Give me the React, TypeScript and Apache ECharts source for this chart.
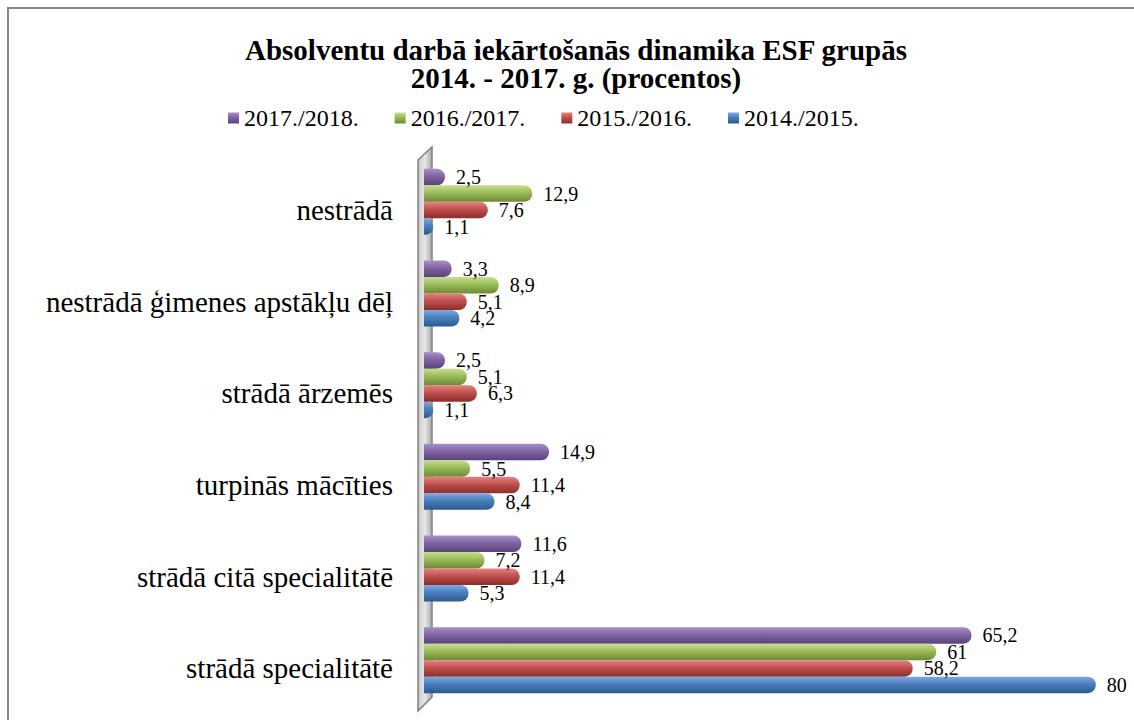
import React, { useEffect, useRef } from "react";
import * as echarts from "echarts";

const categories = [
  "nestrādā",
  "nestrādā ģimenes apstākļu dēļ",
  "strādā ārzemēs",
  "turpinās mācīties",
  "strādā citā specialitātē",
  "strādā specialitātē",
];
const seriesNames = ["2017./2018.", "2016./2017.", "2015./2016.", "2014./2015."];
const v2017 = [2.5, 3.3, 2.5, 14.9, 11.6, 65.2];
const v2016 = [12.9, 8.9, 5.1, 5.5, 7.2, 61];
const v2015 = [7.6, 5.1, 6.3, 11.4, 11.4, 58.2];
const v2014 = [1.1, 4.2, 1.1, 8.4, 5.3, 80];
const seriesValues = [v2017, v2016, v2015, v2014];
const palette = [
  ["#a890c8", "#8064a2", "#5a437a"],
  ["#c6e08e", "#9bbb59", "#6c8a34"],
  ["#e48481", "#c0504d", "#8c2e2b"],
  ["#7eaae2", "#4a7ebb", "#2c5a90"],
];

const FONT = "Liberation Serif";

function grad(c: string[]) {
  return new echarts.graphic.LinearGradient(0, 0, 0, 1, [
    { offset: 0, color: c[0] },
    { offset: 0.45, color: c[1] },
    { offset: 1, color: c[2] },
  ]);
}

export default function App() {
  const ref = useRef<HTMLDivElement>(null);
  useEffect(() => {
    if (!ref.current) return;
    const chart = echarts.init(ref.current, null, { renderer: "svg" });
    chart.setOption({
      animation: false,
      backgroundColor: "#ffffff",
      title: {
        text: "Absolventu darbā iekārtošanās dinamika ESF grupās\n2014. - 2017. g. (procentos)",
        left: 571,
        top: 31,
        textAlign: "center",
        textStyle: {
          fontFamily: FONT,
          fontWeight: "bold",
          fontSize: 29,
          lineHeight: 28,
          color: "#000",
        },
      },
      legend: {
        top: 101,
        left: 223,
        itemWidth: 11,
        itemHeight: 11,
        itemGap: 36,
        icon: "rect",
        textStyle: { fontFamily: FONT, fontSize: 24, color: "#000" },
        data: seriesNames,
      },
      grid: { left: 424, top: 156, width: 697, height: 550, containLabel: false },
      xAxis: { type: "value", min: 0, max: 83, show: false },
      yAxis: {
        type: "category",
        inverse: true,
        data: categories,
        axisLine: { show: false },
        axisTick: { show: false },
        axisLabel: {
          margin: 31,
          fontFamily: FONT,
          fontSize: 29,
          color: "#000",
          verticalAlign: "top",
          lineHeight: 16,
        },
      },
      graphic: [
        {
          type: "rect",
          z: -10,
          shape: { x: 8, y: 8, width: 1400, height: 1000 },
          style: { fill: "none", stroke: "#888888", lineWidth: 2 },
          silent: true,
        },
        {
          type: "polygon",
          z: -5,
          shape: { points: [[418, 160], [432, 147], [432, 697], [418, 711]] },
          style: {
            fill: new echarts.graphic.LinearGradient(0, 0, 1, 0, [
              { offset: 0, color: "#c8c8c8" },
              { offset: 0.5, color: "#e8e8e8" },
              { offset: 1, color: "#a8a8a8" },
            ]),
            stroke: "#7f7f7f",
            lineWidth: 1.5,
          },
          silent: true,
        },
      ],
      series: seriesNames.map((name, i) => ({
        name,
        type: "bar",
        data: seriesValues[i],
        barWidth: 16.5,
        barGap: "0%",
        z: 5,
        itemStyle: {
          color: grad(palette[i]),
          borderRadius: [0, 8, 8, 0],
        },
        label: {
          show: true,
          position: "right",
          distance: 11,
          fontFamily: FONT,
          fontSize: 20,
          color: "#000",
          formatter: (p: any) => String(p.value).replace(".", ","),
        },
      })),
    });
    return () => chart.dispose();
  }, []);
  return (
    <div
      ref={ref}
      style={{ position: "absolute", left: 0, top: 0, width: 1134, height: 720 }}
    />
  );
}
